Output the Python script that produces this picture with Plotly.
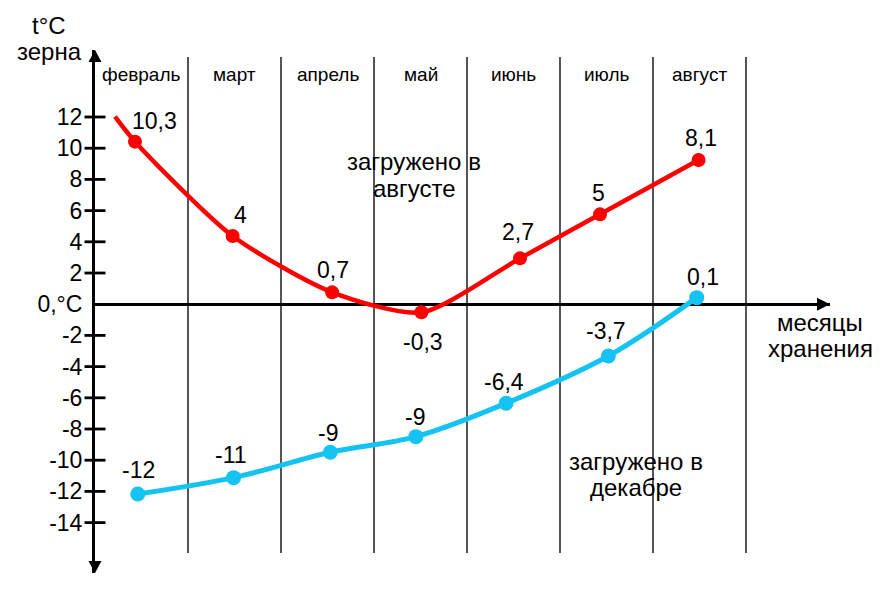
import plotly.graph_objects as go

# ---------------- data ----------------
months = ["февраль", "март", "апрель", "май", "июнь", "июль", "август"]
y_tickvals = [12, 10, 8, 6, 4, 2, 0, -2, -4, -6, -8, -10, -12, -14]
y_ticktext = ["12", "10", "8", "6", "4", "2", "0,°C", "-2", "-4", "-6", "-8", "-10", "-12", "-14"]

# loaded in August (red)
red_x = [0.43, 1.48, 2.55, 3.51, 4.57, 5.43, 6.49]
red_y = [10.42, 4.37, 0.76, -0.52, 2.94, 5.76, 9.24]
red_labels = ["10,3", "4", "0,7", "-0,3", "2,7", "5", "8,1"]
red_line_start_x = [0.215]
red_line_start_y = [12.02]

# loaded in December (blue)
blue_x = [0.46, 1.49, 2.53, 3.45, 4.42, 5.52, 6.47]
blue_y = [-12.17, -11.12, -9.49, -8.49, -6.35, -3.32, 0.42]
blue_labels = ["-12", "-11", "-9", "-9", "-6,4", "-3,7", "0,1"]

# ---------------- geometry / style ----------------
W, H = 896, 606
L, R, T, B = 95, 830, 50, 573
PX_PER_MONTH = 93.0
PX_PER_DEG = 15.6
ZERO_PX = 304.2


def X(px):
    return (px - L) / PX_PER_MONTH


def Y(py):
    return (ZERO_PX - py) / PX_PER_DEG


def PX(px):
    return (px - L) / (R - L)


def PY(py):
    return (B - py) / (B - T)


x_range = [0, X(R)]
y_range = [Y(B), Y(T)]

RED = "#FF0000"
BLUE = "#14C3F2"
FONT = "Liberation Sans, Arial, sans-serif"

red_label_shift = [(20, 21), (8, 21), (1, 22), (2, -30), (-2, 26), (-1, 21), (2.5, 22.5)]
blue_label_shift = [(1, 24), (-2.5, 23), (-2.5, 19), (-1, 20), (-2, 21), (-2, 25), (6, 21)]

fig = go.Figure()

# y-axis tick marks crossing the axis
fig.add_trace(go.Scatter(
    x=[0] * (len(y_tickvals) - 1),
    y=[v for v in y_tickvals if v != 0],
    mode="markers",
    marker=dict(symbol="line-ew", size=15, line=dict(width=2.8, color="black")),
    cliponaxis=False, hoverinfo="skip", showlegend=False,
))

# red series
fig.add_trace(go.Scatter(
    x=red_line_start_x + red_x, y=red_line_start_y + red_y,
    mode="lines", line=dict(color=RED, width=4.5, shape="spline", smoothing=0.7),
    showlegend=False, hoverinfo="skip",
))
fig.add_trace(go.Scatter(
    x=red_x, y=red_y, mode="markers",
    marker=dict(color=RED, size=14), showlegend=False,
))

# blue series
fig.add_trace(go.Scatter(
    x=blue_x, y=blue_y,
    mode="lines", line=dict(color=BLUE, width=5, shape="spline", smoothing=1.0),
    showlegend=False, hoverinfo="skip",
))
fig.add_trace(go.Scatter(
    x=blue_x, y=blue_y, mode="markers",
    marker=dict(color=BLUE, size=15), showlegend=False, cliponaxis=False,
))

shapes = []
# vertical month separators
for k in range(1, len(months) + 1):
    shapes.append(dict(type="line", xref="x", yref="y", x0=k, x1=k, y0=Y(553), y1=Y(57),
                       line=dict(color="#2a2a2a", width=1.6), layer="below"))
# arrow heads (paper refs -> not clipped)
shapes.append(dict(type="path", xref="paper", yref="paper", xsizemode="pixel", ysizemode="pixel",
                   xanchor=0, yanchor=1, path="M -6.5,-12 L 6.5,-12 L 0,0 Z",
                   fillcolor="black", line=dict(width=0)))
shapes.append(dict(type="path", xref="paper", yref="paper", xsizemode="pixel", ysizemode="pixel",
                   xanchor=0, yanchor=0, path="M -6.5,12 L 6.5,12 L 0,0 Z",
                   fillcolor="black", line=dict(width=0)))
shapes.append(dict(type="path", xref="paper", yref="y", xsizemode="pixel", ysizemode="pixel",
                   xanchor=1, yanchor=0, path="M -13,-6.5 L -13,6.5 L 0,0 Z",
                   fillcolor="black", line=dict(width=0)))

annotations = []


def txt(text, px, py, size):
    annotations.append(dict(text=text, x=PX(px), y=PY(py), xref="paper", yref="paper",
                            showarrow=False, xanchor="center", yanchor="middle",
                            font=dict(family=FONT, size=size, color="black")))


for i, m in enumerate(months):
    annotations.append(dict(text=m, x=i + 0.5, y=Y(74), xref="x", yref="y",
                            showarrow=False, xanchor="center", yanchor="middle",
                            font=dict(family=FONT, size=19, color="black")))

for xv, yv, lab, (dx, dy) in zip(red_x, red_y, red_labels, red_label_shift):
    annotations.append(dict(text=lab, x=xv, y=yv, xref="x", yref="y", showarrow=False,
                            xanchor="center", yanchor="middle", xshift=dx, yshift=dy,
                            font=dict(family=FONT, size=23, color="black")))
for xv, yv, lab, (dx, dy) in zip(blue_x, blue_y, blue_labels, blue_label_shift):
    annotations.append(dict(text=lab, x=xv, y=yv, xref="x", yref="y", showarrow=False,
                            xanchor="center", yanchor="middle", xshift=dx, yshift=dy,
                            font=dict(family=FONT, size=23, color="black")))

txt("t°C", 49, 26, 24)
txt("зерна", 49.5, 52, 24)
txt("загружено в", 414, 161, 24)
txt("августе", 414, 188, 24)
txt("месяцы", 819.5, 322, 24)
txt("хранения", 820, 348, 24)
txt("загружено в", 636, 461, 24)
txt("декабре", 636, 487, 24)

fig.update_layout(
    width=W, height=H,
    margin=dict(l=L, r=W - R, t=T, b=H - B, pad=0),
    paper_bgcolor="white", plot_bgcolor="white",
    showlegend=False,
    shapes=shapes, annotations=annotations,
    xaxis=dict(range=x_range, visible=False, showgrid=False, zeroline=False, fixedrange=True),
    yaxis=dict(range=y_range, showgrid=False, zeroline=True, zerolinecolor="black",
               zerolinewidth=2.5, showline=True, linecolor="black", linewidth=3,
               ticks="", tickvals=y_tickvals, ticktext=y_ticktext,
               ticklabelstandoff=5,
               tickfont=dict(family=FONT, size=23, color="black"), fixedrange=True),
    font=dict(family=FONT),
)

fig.write_html("out.html")
